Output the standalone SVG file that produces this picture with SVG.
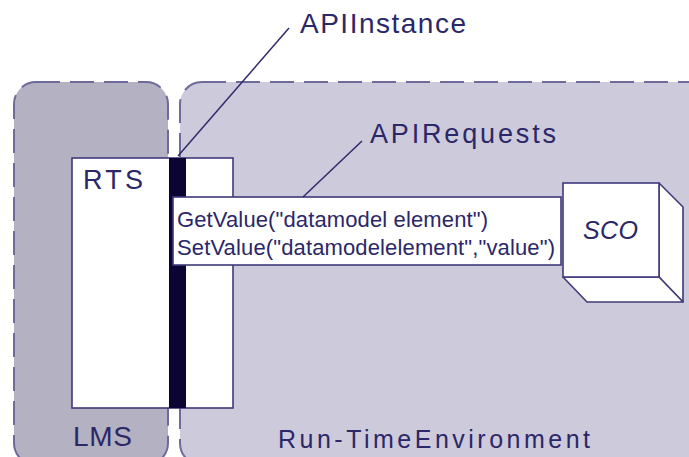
<svg xmlns="http://www.w3.org/2000/svg" width="689" height="457" viewBox="0 0 689 457">
  <style>
    .zone { stroke: #6e6b9c; stroke-width: 2; stroke-dasharray: 24 10; }
    .box { fill: #ffffff; stroke: #3f3a7a; stroke-width: 1.6; }
    .lead { stroke: #2e2a6b; stroke-width: 1.5; fill: none; }
    .lbl { font-family: "Liberation Sans", Arial, sans-serif; fill: #2b2768; }
  </style>
  <rect width="689" height="457" fill="#ffffff"/>

  <!-- environment zones -->
  <g id="lms">
    <rect class="zone" x="14" y="82" width="154" height="383" rx="22" ry="22" fill="#b4b1c2"/>
    <text class="lbl" x="73" y="446" font-size="28" textLength="59">LMS</text>
  </g>
  <g id="rte">
    <rect class="zone" x="180" y="82" width="530" height="383" rx="22" ry="22" fill="#cdcadb"/>
    <text class="lbl" x="278" y="448" font-size="25" textLength="312">Run-TimeEnvironment</text>
  </g>

  <!-- run-time service with API instance bar -->
  <g id="rts">
    <rect class="box" x="72" y="158" width="161" height="250"/>
    <rect x="169" y="158" width="17" height="250" fill="#0c0533"/>
    <text class="lbl" x="83" y="189" font-size="27" textLength="60">RTS</text>
  </g>

  <!-- API calls -->
  <g id="requests">
    <rect class="box" x="173" y="197" width="388" height="68"/>
    <text class="lbl" x="177" y="227" font-size="22" textLength="311">GetValue("datamodel element")</text>
    <text class="lbl" x="177" y="255" font-size="22" textLength="378">SetValue("datamodelelement","value")</text>
  </g>

  <!-- shareable content object -->
  <g id="sco">
    <polygon points="659,183 683,207 683,302 659,277" fill="#ffffff" stroke="#3f3a7a" stroke-width="1.6" stroke-linejoin="round"/>
    <polygon points="563,277 659,277 683,302 587,302" fill="#ffffff" stroke="#3f3a7a" stroke-width="1.6" stroke-linejoin="round"/>
    <rect class="box" x="563" y="183" width="96" height="94"/>
    <text class="lbl" x="583" y="239" font-size="25" font-style="italic" textLength="55">SCO</text>
  </g>

  <!-- callout labels -->
  <g id="label-api-instance">
    <text class="lbl" x="300" y="33" font-size="28" textLength="166">APIInstance</text>
  </g>
  <g id="label-api-requests">
    <text class="lbl" x="370" y="143" font-size="27" textLength="186">APIRequests</text>
  </g>

  <g id="connectors">
    <line class="lead" x1="178" y1="156" x2="289" y2="28"/>
    <line class="lead" x1="303" y1="197" x2="362" y2="141"/>
  </g>
</svg>
